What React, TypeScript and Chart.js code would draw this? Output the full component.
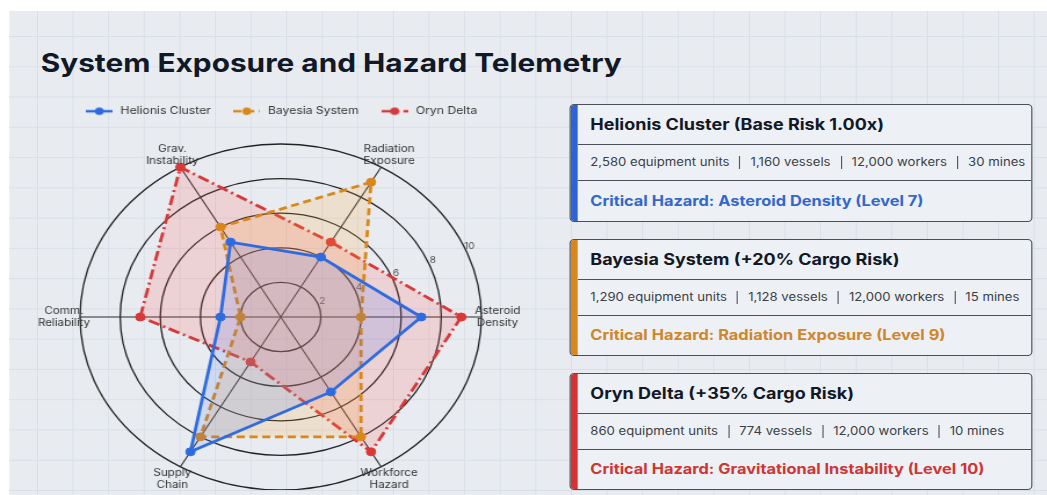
import React, { useEffect, useRef } from "react";
import { Chart, registerables } from "chart.js";

Chart.register(...registerables);

// ---------------- data ----------------
const titleText = "System Exposure and Hazard Telemetry";
const categories: string[][] = [
  ["Asteroid", "Density"],
  ["Radiation", "Exposure"],
  ["Grav.", "Instability"],
  ["Comm.", "Reliability"],
  ["Supply", "Chain"],
  ["Workforce", "Hazard"],
];
const seriesNames = ["Helionis Cluster", "Bayesia System", "Oryn Delta"];
const helionisValues = [7, 4, 5, 3, 9, 5];
const bayesiaValues = [4, 9, 6, 2, 8, 8];
const orynValues = [9, 5, 10, 7, 3, 9];
const tickValues = [2, 4, 6, 8, 10];

const cardTitles = [
  "Helionis Cluster (Base Risk 1.00x)",
  "Bayesia System (+20% Cargo Risk)",
  "Oryn Delta (+35% Cargo Risk)",
];
const equipmentUnits = ["2,580", "1,290", "860"];
const vesselCounts = ["1,160", "1,128", "774"];
const workerCounts = ["12,000", "12,000", "12,000"];
const mineCounts = ["30", "15", "10"];
const hazardTexts = [
  "Critical Hazard: Asteroid Density (Level 7)",
  "Critical Hazard: Radiation Exposure (Level 9)",
  "Critical Hazard: Gravitational Instability (Level 10)",
];

// ---------------- styles ----------------
const SX = 1.16;
const FONT = "Inter, 'Noto Sans', 'Liberation Sans', sans-serif";
const LINE_COLORS = ["#2f6be0", "#d9861a", "#d83838"];
const FILL_COLORS = ["rgba(70,115,245,0.16)", "rgba(255,165,45,0.18)", "rgba(255,75,75,0.17)"];
const DASHES = [[], [7, 4], [10, 3.5, 2, 3.5]];
const HAZARD_COLORS = ["#3168cc", "#d0862a", "#cf3535"];
const STRIPE_COLORS = ["#2d63d8", "#d9861c", "#d63232"];
const BG = "#e8ecf1";
const GRID = "#dadfe7";
const CARD_BG = "#edf0f4";
const BORDER = "#4b5057";
const cardTops = [104, 239, 373];
const cardHeights = [118, 117, 117];

const measureCtx = document.createElement("canvas").getContext("2d")!;
function fitSize(text: string, weight: number, target: number) {
  measureCtx.font = `${weight} 100px ${FONT}`;
  const w = measureCtx.measureText(text).width;
  return (100 * target) / w;
}

function makeMarker(color: string, dash: number[]) {
  const c = document.createElement("canvas");
  c.width = 23;
  c.height = 10;
  const g = c.getContext("2d")!;
  g.strokeStyle = color;
  g.lineWidth = 2.5;
  g.setLineDash(dash);
  g.beginPath();
  g.moveTo(0, 5);
  g.lineTo(23, 5);
  g.stroke();
  g.setLineDash([]);
  g.fillStyle = color;
  g.beginPath();
  g.arc(11.5, 5, 3.8, 0, Math.PI * 2);
  g.fill();
  return c;
}

function RadarChart() {
  const ref = useRef<HTMLCanvasElement>(null);
  useEffect(() => {
    const canvas = ref.current!;
    const cwOrder = [0, 5, 4, 3, 2, 1];
    const cw = (a: any[]) => cwOrder.map((i) => a[i]);
    const allValues = [helionisValues, bayesiaValues, orynValues];
    const markers = LINE_COLORS.map((c, i) => makeMarker(c, DASHES[i]));

    const legendSpacer = {
      id: "legendSpacer",
      beforeLayout(chart: any) {
        const lg = chart.legend;
        if (lg && !lg.__spaced) {
          const f = lg.fit;
          lg.fit = function () {
            f.call(this);
            this.height += 17.5;
          };
          lg.__spaced = true;
        }
      },
    };

    const labelsPlugin = {
      id: "customRadarLabels",
      beforeDatasetsDraw(chart: any) {
        const r = chart.scales.r;
        const ctx = chart.ctx;
        ctx.save();
        ctx.font = `8.5px ${FONT}`;
        ctx.fillStyle = "#4a4a4a";
        ctx.textAlign = "center";
        ctx.textBaseline = "middle";
        const ang = (23.5 * Math.PI) / 180;
        tickValues.forEach((v) => {
          const d = r.getDistanceFromCenterForValue(v) + 4.5;
          ctx.fillText(String(v), r.xCenter + Math.cos(ang) * d, r.yCenter - Math.sin(ang) * d);
        });
        ctx.restore();
      },
      afterDraw(chart: any) {
        const r = chart.scales.r;
        const ctx = chart.ctx;
        ctx.save();
        ctx.font = `10px ${FONT}`;
        ctx.fillStyle = "#333333";
        ctx.textAlign = "center";
        ctx.textBaseline = "middle";
        (chart.data.labels as string[][]).forEach((lines, i) => {
          const p = r.getPointPosition(i, r.drawingArea * 1.08);
          const lh = 11.7;
          lines.forEach((t, k) => {
            ctx.fillText(t, p.x, p.y + (k - (lines.length - 1) / 2) * lh);
          });
        });
        ctx.restore();
      },
    };

    const chart = new Chart(canvas, {
      type: "radar",
      data: {
        labels: cw(categories),
        datasets: seriesNames.map((name, i) => ({
          label: name,
          data: cw(allValues[i]),
          borderColor: LINE_COLORS[i],
          backgroundColor: FILL_COLORS[i],
          borderWidth: 2.8,
          borderDash: DASHES[i],
          fill: true,
          tension: 0,
          pointRadius: 4,
          pointBorderWidth: 1,
          pointBackgroundColor: LINE_COLORS[i],
          pointBorderColor: LINE_COLORS[i],
        })),
      },
      options: {
        animation: false,
        responsive: true,
        maintainAspectRatio: false,
        events: [],
        layout: { padding: 0 },
        plugins: {
          tooltip: { enabled: false },
          legend: {
            position: "top",
            labels: {
              usePointStyle: true,
              pointStyleWidth: 26,
              padding: 18,
              color: "#333333",
              font: { family: FONT, size: 10.5 },
              generateLabels: (ch: any) =>
                ch.data.datasets.map((ds: any, i: number) => ({
                  text: ds.label,
                  pointStyle: markers[i],
                  fillStyle: LINE_COLORS[i],
                  strokeStyle: LINE_COLORS[i],
                  lineWidth: 0,
                  hidden: false,
                  datasetIndex: i,
                  fontColor: "#333333",
                })),
            },
          },
        },
        scales: {
          r: {
            min: 0,
            max: 10,
            startAngle: 90,
            ticks: { display: false, stepSize: 2 },
            grid: { circular: true, color: "#222222", lineWidth: 1.3 },
            angleLines: { color: "#2a2a2a", lineWidth: 1.1 },
            pointLabels: { display: false },
          },
        },
      } as any,
      plugins: [legendSpacer as any, labelsPlugin as any],
    });
    return () => chart.destroy();
  }, []);
  return (
    <div style={{ position: "absolute", left: 7, top: 88, width: 470, height: 402 }}>
      <canvas ref={ref} />
    </div>
  );
}

function Card({ i }: { i: number }) {
  const titleSize = fitSize(cardTitles[0], 700, 253.4);
  const statSize = fitSize(`${equipmentUnits[0]} equipment units`, 400, 120);
  const hazardSize = fitSize(hazardTexts[0], 700, 287.6);
  const segs = [
    `${equipmentUnits[i]} equipment units`,
    `${vesselCounts[i]} vessels`,
    `${workerCounts[i]} workers`,
    `${mineCounts[i]} mines`,
  ];
  const row: React.CSSProperties = {
    display: "flex",
    alignItems: "center",
    paddingLeft: 10.5,
    whiteSpace: "nowrap",
    lineHeight: 1,
  };
  return (
    <div
      style={{
        position: "absolute",
        left: 491.4,
        top: cardTops[i],
        width: 399,
        height: cardHeights[i],
        boxSizing: "border-box",
        border: `1.3px solid ${BORDER}`,
        borderRadius: 4,
        background: CARD_BG,
        overflow: "hidden",
      }}
    >
      <div style={{ position: "absolute", left: 0, top: 0, bottom: 0, width: 6, background: STRIPE_COLORS[i] }} />
      <div style={{ marginLeft: 6, display: "flex", flexDirection: "column", height: "100%" }}>
        <div
          style={{
            ...row,
            height: 39,
            borderBottom: `1.5px solid ${BORDER}`,
            fontWeight: 700,
            fontSize: titleSize,
            color: "#121826",
          }}
        >
          {cardTitles[i]}
        </div>
        <div
          style={{
            ...row,
            height: 35,
            borderBottom: `1.5px solid ${BORDER}`,
            fontSize: statSize,
            color: "#3a3f47",
          }}
        >
          {segs.map((s, k) => (
            <React.Fragment key={k}>
              {k > 0 && (
                <span
                  style={{
                    display: "inline-block",
                    width: 1,
                    height: 13,
                    background: "#555a61",
                    margin: "0 8.6px",
                  }}
                />
              )}
              <span>{s}</span>
            </React.Fragment>
          ))}
        </div>
        <div
          style={{
            ...row,
            flex: 1,
            fontWeight: 700,
            fontSize: hazardSize,
            color: HAZARD_COLORS[i],
          }}
        >
          {hazardTexts[i]}
        </div>
      </div>
    </div>
  );
}

export default function App() {
  Chart.defaults.font.family = FONT;
  const titleSize = fitSize(titleText, 700, 501);
  return (
    <div
      style={{
        position: "fixed",
        left: 0,
        top: 0,
        width: 1047,
        height: 495,
        overflow: "hidden",
        background: "#ffffff",
        fontFamily: FONT,
      }}
    >
      <div
        style={{
          position: "absolute",
          left: 0,
          top: 0,
          width: 1047 / SX,
          height: 495,
          transform: `scaleX(${SX})`,
          transformOrigin: "0 0",
        }}
      >
        <div
          style={{
            position: "absolute",
            left: 9 / SX,
            top: 11,
            right: 0,
            bottom: 0,
            backgroundColor: BG,
            backgroundImage: `linear-gradient(to right, ${GRID} 0, ${GRID} 1px, transparent 1px), linear-gradient(to bottom, ${GRID} 0, ${GRID} 1px, transparent 1px)`,
            backgroundSize: "30.69px 30.27px",
            backgroundPosition: "23.88px 25px",
          }}
        />
        <div
          style={{
            position: "absolute",
            left: 35.1,
            top: 62.5 - titleSize / 2,
            fontSize: titleSize,
            lineHeight: 1,
            fontWeight: 700,
            color: "#111827",
            whiteSpace: "nowrap",
          }}
        >
          {titleText}
        </div>
        <RadarChart />
        {cardTitles.map((_, i) => (
          <Card key={i} i={i} />
        ))}
      </div>
    </div>
  );
}
